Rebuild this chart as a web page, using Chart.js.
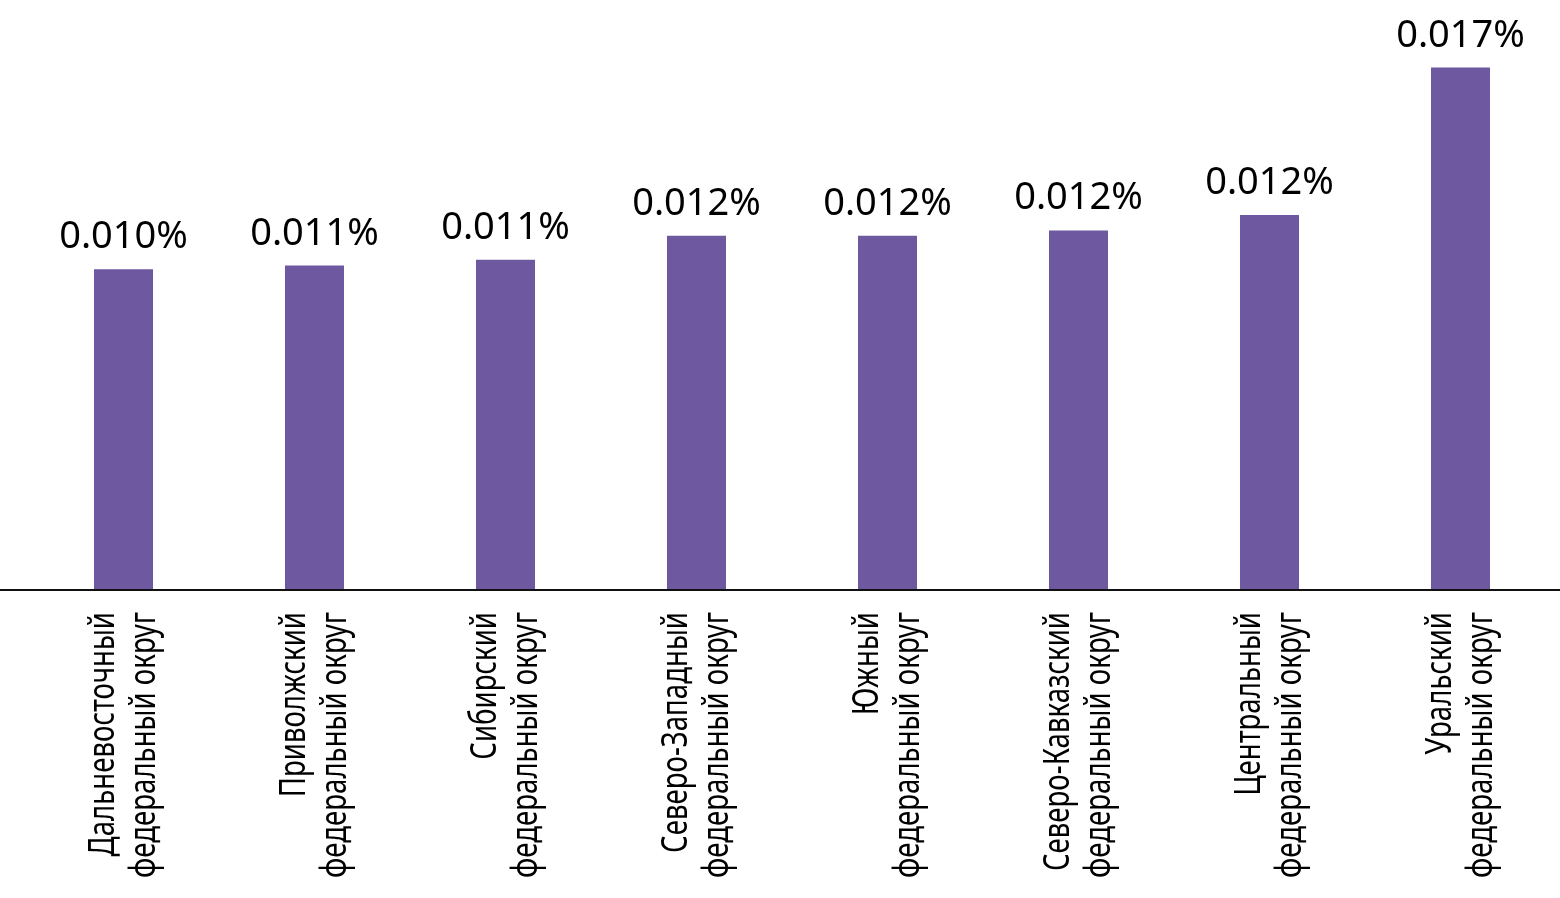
<!DOCTYPE html>
<html>
<head>
<meta charset="utf-8">
<script src="https://cdn.jsdelivr.net/npm/chart.js@4"></script>
<style>
  html, body { margin: 0; padding: 0; background: #fff; }
  #wrap { width: 1560px; height: 898px; position: relative; }
</style>
</head>
<body>
<div id="wrap"><canvas id="graph1"></canvas></div>
<script>
var districts = [
    ['Дальневосточный', 'федеральный округ'],
    ['Приволжский', 'федеральный округ'],
    ['Сибирский', 'федеральный округ'],
    ['Северо-Западный', 'федеральный округ'],
    ['Южный', 'федеральный округ'],
    ['Северо-Кавказский', 'федеральный округ'],
    ['Центральный', 'федеральный округ'],
    ['Уральский', 'федеральный округ']
];
// share, %
var shareValues = [0.01044, 0.01056, 0.01075, 0.01153, 0.01153, 0.0117, 0.0122, 0.0170];

var barColor = '#6e59a0';

// value labels, condensed rotated category labels, full-width base line
var extras = {
    id: 'extras',
    afterDraw: function(chart) {
        var c = chart.ctx;
        var meta = chart.getDatasetMeta(0);
        var xs = chart.scales.x;
        var y0 = chart.scales.y.getPixelForValue(0);
        c.save();
        c.fillStyle = '#000';
        c.font = '38px "Noto Sans", sans-serif';
        c.textAlign = 'center';
        c.textBaseline = 'alphabetic';
        meta.data.forEach(function(bar, i) {
            c.fillText(shareValues[i].toFixed(3) + '%', bar.x, bar.y - 21);
        });

        c.strokeStyle = '#111';
        c.lineWidth = 2;
        c.beginPath();
        c.moveTo(0, y0);
        c.lineTo(chart.width, y0);
        c.stroke();

        // category labels: rotated, squeezed to a condensed look
        c.font = '36px "Noto Sans", sans-serif';
        var k = 266 / c.measureText('федеральный округ').width;
        var lineShift = [-10, 31];
        districts.forEach(function(lines, i) {
            var x = xs.getPixelForValue(i);
            lines.forEach(function(t, j) {
                c.save();
                c.translate(x + lineShift[j], y0 + 22);
                c.rotate(-Math.PI / 2);
                c.scale(k, 1);
                c.textAlign = 'right';
                c.textBaseline = 'alphabetic';
                c.fillText(t, 0, 0);
                c.restore();
            });
        });
        c.restore();
    }
};

var ctx = document.getElementById('graph1').getContext('2d');
var graph1 = new Chart(ctx, {
    type: 'bar',
    data: {
        labels: districts,
        datasets: [{
            data: shareValues,
            backgroundColor: barColor,
            barPercentage: 0.309,
            categoryPercentage: 1
        }]
    },
    options: {
        responsive: true,
        maintainAspectRatio: false,
        animation: false,
        layout: { padding: { left: 28, right: 4, top: 0, bottom: 0 } },
        plugins: { legend: { display: false }, tooltip: { enabled: false } },
        scales: {
            y: { display: false, min: 0, max: 0.0192 },
            x: {
                grid: { display: false, drawTicks: false },
                border: { display: false },
                ticks: { display: false },
                afterFit: function(scale) { scale.height = 308; }
            }
        }
    },
    plugins: [extras]
});
</script>
</body>
</html>
